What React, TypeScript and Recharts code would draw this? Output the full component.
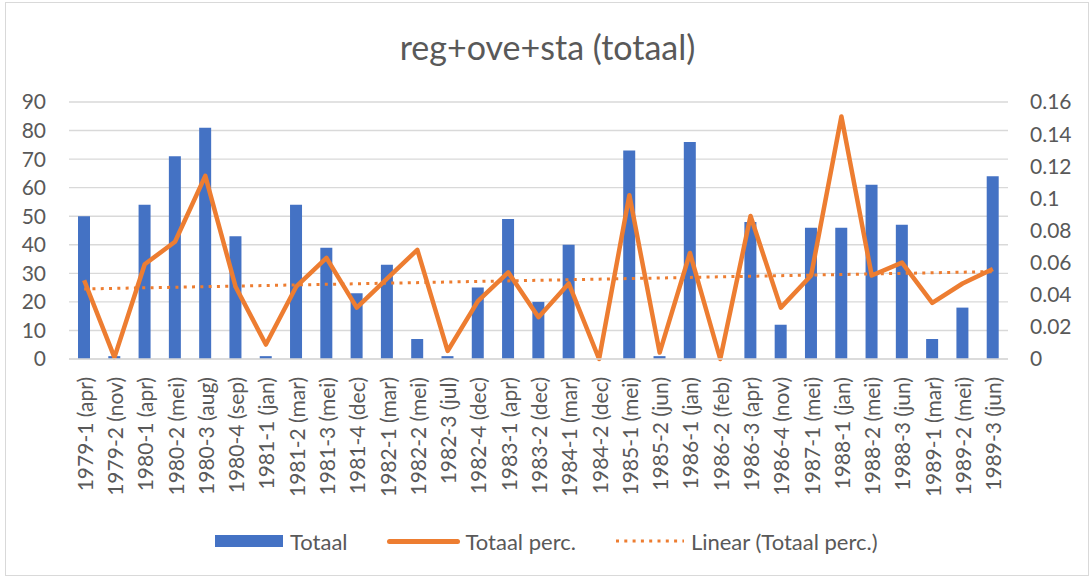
import React from "react";
import { Bar, CartesianGrid, ComposedChart, Line, ReferenceLine, XAxis, YAxis } from "recharts";

document.body.style.margin = "0";

const periods = [
  "1979-1 (apr)", "1979-2 (nov)", "1980-1 (apr)", "1980-2 (mei)", "1980-3 (aug)", "1980-4 (sep)",
  "1981-1 (jan)", "1981-2 (mar)", "1981-3 (mei)", "1981-4 (dec)", "1982-1 (mar)", "1982-2 (mei)",
  "1982-3 (jul)", "1982-4 (dec)", "1983-1 (apr)", "1983-2 (dec)", "1984-1 (mar)", "1984-2 (dec)",
  "1985-1 (mei)", "1985-2 (jun)", "1986-1 (jan)", "1986-2 (feb)", "1986-3 (apr)", "1986-4 (nov)",
  "1987-1 (mei)", "1988-1 (jan)", "1988-2 (mei)", "1988-3 (jun)", "1989-1 (mar)", "1989-2 (mei)",
  "1989-3 (jun)",
];

const totaal = [
  50, 1, 54, 71, 81, 43, 1, 54, 39, 23, 33, 7, 1, 25, 49, 20, 40, 0, 73, 1, 76, 0, 48, 12, 46, 46, 61,
  47, 7, 18, 64,
];

const totaalPerc = [
  0.049, 0.001, 0.059, 0.073, 0.114, 0.045, 0.009, 0.045, 0.063, 0.032, 0.05, 0.068, 0.005, 0.036,
  0.054, 0.026, 0.047, 0, 0.102, 0.004, 0.066, 0, 0.089, 0.032, 0.052, 0.151, 0.052, 0.06, 0.035,
  0.047, 0.056,
];

const trendStart = 0.0436;
const trendEnd = 0.0544;

const leftTicks = [0, 10, 20, 30, 40, 50, 60, 70, 80, 90];
const rightTicks = [0, 0.02, 0.04, 0.06, 0.08, 0.1, 0.12, 0.14, 0.16];

const data = periods.map((p, i) => ({ period: p, totaal: totaal[i], perc: totaalPerc[i] }));

const FONT = "Lato, 'Open Sans', sans-serif";
const GREY = "#595959";
const BLUE = "#4472C4";
const ORANGE = "#ED7D31";

function PeriodTick({ x, y, payload }: any) {
  return (
    <text
      x={x}
      y={y + 10}
      transform={`rotate(-90, ${x}, ${y + 10})`}
      textAnchor="end"
      dominantBaseline="central"
      fill={GREY}
      fontSize={21}
      fontFamily={FONT}
    >
      {payload.value}
    </text>
  );
}

export default function App() {
  return (
    <div style={{ position: "relative", width: 1091, height: 578, background: "#fff", fontFamily: FONT }}>
      <div
        style={{
          position: "absolute",
          left: 5,
          top: 2,
          width: 1082,
          height: 572,
          border: "1px solid #D9D9D9",
        }}
      />
      <div
        style={{
          position: "absolute",
          top: 26,
          left: 0,
          width: 1095,
          textAlign: "center",
          fontSize: 34,
          color: GREY,
          lineHeight: "42px",
        }}
      >
        reg+ove+sta (totaal)
      </div>
      <ComposedChart
        width={1091}
        height={578}
        data={data}
        margin={{ top: 102, right: 0, bottom: 0, left: 0 }}
        barSize={12}
      >
        <CartesianGrid vertical={false} stroke="#D9D9D9" strokeWidth={1.4} yAxisId="left" />
        <XAxis
          dataKey="period"
          interval={0}
          height={219}
          tick={<PeriodTick />}
          tickLine={false}
          axisLine={{ stroke: "#D9D9D9", strokeWidth: 1.4 }}
        />
        <YAxis
          yAxisId="left"
          width={69}
          domain={[0, 90]}
          ticks={leftTicks}
          interval={0}
          tickSize={0}
          tickMargin={23}
          tickLine={false}
          axisLine={false}
          tick={{ fill: GREY, fontSize: 21, fontFamily: FONT }}
        />
        <YAxis
          yAxisId="right"
          orientation="right"
          width={83}
          domain={[0, 0.16]}
          ticks={rightTicks}
          interval={0}
          tickSize={0}
          tickMargin={22}
          tickLine={false}
          axisLine={false}
          tick={{ fill: GREY, fontSize: 21, fontFamily: FONT, textAnchor: "start" }}
        />
        <Bar yAxisId="left" dataKey="totaal" fill={BLUE} isAnimationActive={false} />
        <Line
          yAxisId="right"
          type="linear"
          dataKey="perc"
          stroke={ORANGE}
          strokeWidth={4.5}
          strokeLinejoin="round"
          dot={false}
          activeDot={false}
          isAnimationActive={false}
        />
        <ReferenceLine
          yAxisId="right"
          segment={[
            { x: periods[0], y: trendStart },
            { x: periods[periods.length - 1], y: trendEnd },
          ]}
          stroke={ORANGE}
          strokeWidth={3}
          strokeDasharray="3 5.3"
        />
      </ComposedChart>
      <div
        style={{
          position: "absolute",
          top: 528,
          left: 215,
          height: 26,
          display: "flex",
          alignItems: "center",
          fontSize: 22,
          color: GREY,
          whiteSpace: "nowrap",
        }}
      >
        <span style={{ display: "inline-block", width: 68, height: 12, background: BLUE, marginRight: 7 }} />
        <span>Totaal</span>
        <span
          style={{
            display: "inline-block",
            width: 73,
            height: 5,
            borderRadius: 3,
            background: ORANGE,
            marginLeft: 39,
            marginRight: 6,
          }}
        />
        <span>Totaal perc.</span>
        <svg width={69} height={6} style={{ marginLeft: 39, marginRight: 7 }}>
          <line x1={1} y1={3} x2={69} y2={3} stroke={ORANGE} strokeWidth={3} strokeDasharray="3 5.3" />
        </svg>
        <span>Linear (Totaal perc.)</span>
      </div>
    </div>
  );
}
